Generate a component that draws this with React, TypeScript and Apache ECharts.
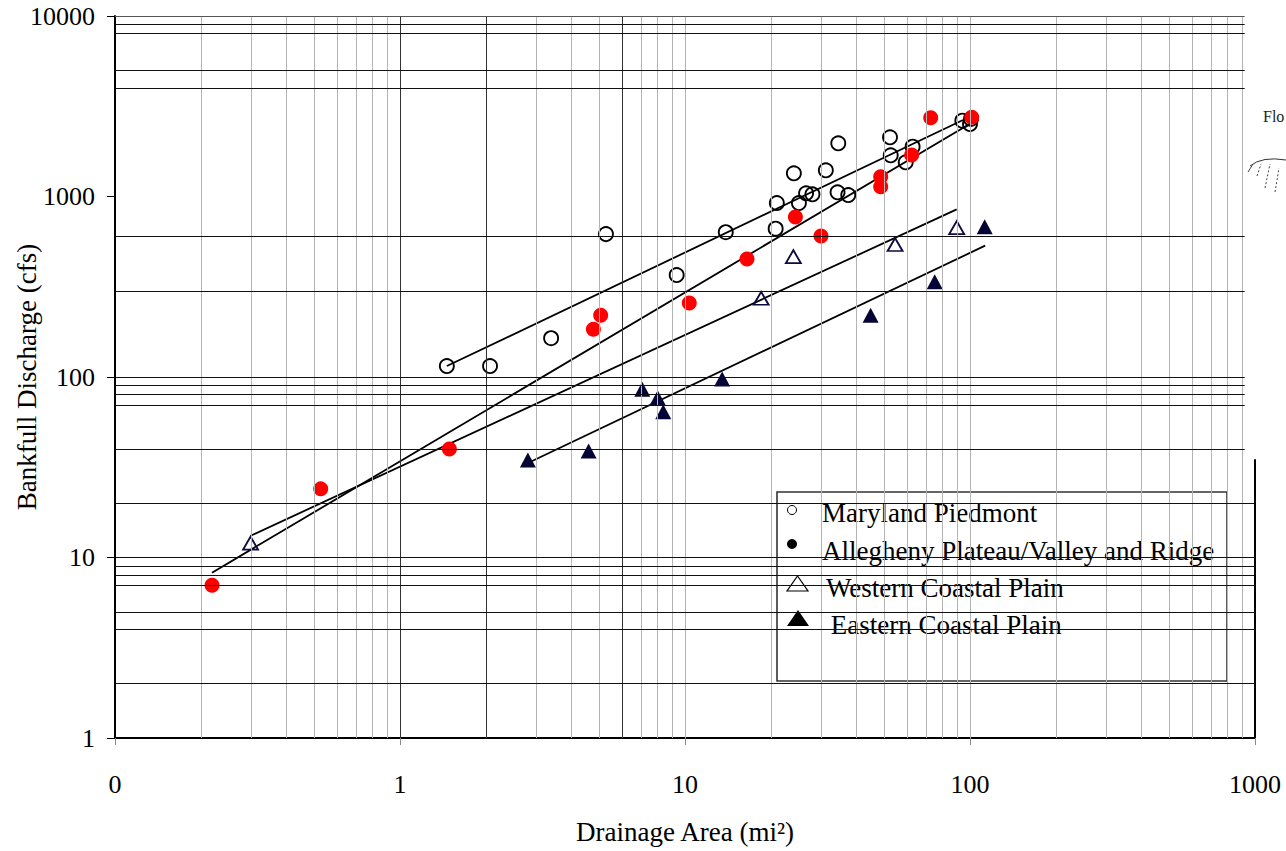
import React, { useEffect, useRef } from "react";
import * as echarts from "echarts";

const FONT = "'Liberation Serif', 'Times New Roman', serif";

// ---- data ----
const piedmontX = [1.46, 2.07, 3.39, 5.28, 9.35, 13.9, 20.8, 21.0, 24.1, 25.1, 26.6, 28.0, 31.2, 34.5, 34.3, 37.4, 52.4, 52.7, 62.9, 59.5, 94, 100.8, 100];
const piedmontY = [115, 115, 164, 619, 367, 634, 663, 920, 1344, 920, 1042, 1028, 1397, 1971, 1055, 1019, 2128, 1692, 1888, 1547, 2630, 2688, 2521];

const alleghenyX = [0.219, 0.527, 1.49, 4.77, 5.06, 10.35, 16.5, 24.4, 30.0, 48.6, 48.6, 62.4, 72.8, 101.4];
const alleghenyY = [7.01, 24.0, 39.9, 184, 220, 257, 451, 770, 604, 1288, 1133, 1698, 2733, 2747];

const westernX = [0.299, 18.5, 24.0, 54.6, 89.8];
const westernY = [12.0, 273, 464, 542, 672];

const easternX = [2.81, 4.59, 7.08, 8.02, 8.39, 13.5, 44.8, 75.2, 112.6];
const easternY = [34.7, 38.9, 85.5, 76.8, 64.2, 97.5, 220, 337, 680];

// regression lines (end points)
const piedmontFitX = [1.46, 94.5];
const piedmontFitY = [115, 2653];
const alleghenyFitX = [0.219, 101.4];
const alleghenyFitY = [8.24, 2564];
const westernFitX = [0.299, 89.8];
const westernFitY = [13.2, 849];
const easternFitX = [2.86, 113];
const easternFitY = [33.8, 534];

// axis ticks / grid
const xTickLabels = ["0", "1", "10", "100", "1000"];
const yTickLabels = ["1", "10", "100", "1000", "10000"];
const hGridValues = [2, 4, 5, 7, 8, 9, 10, 20, 40, 70, 80, 90, 100, 300, 600, 4000, 5000, 8000, 9000, 10000];
const hGridSplit = 40; // lines at or above this value stop short on the right
const hGridEndTop = 920;
const hGridEndBottom = 1000;
const vGridValues = [
  0.2, 0.3, 0.4, 0.5, 0.6, 0.7, 0.8, 0.9, 1,
  2, 3, 4, 5, 6, 7, 8, 9, 10,
  20, 30, 40, 50, 60, 70, 80, 90, 100,
  200, 300, 400, 500, 600, 700, 800, 900,
];
const vGridDark = [1, 2, 6];
const rightBorderTop = 35;

const legendItems = [
  "Maryland Piedmont",
  "Allegheny Plateau/Valley and Ridge",
  "Western Coastal Plain",
  " Eastern Coastal Plain",
];

const zip = (xs: number[], ys: number[]) => xs.map((x, i) => [x, ys[i]]);

function buildOption() {
  const hLines = hGridValues.map((v) => [
    {
      coord: [0.1, v],
      lineStyle: { color: v === 10000 ? "#555" : "#111", width: 1, type: "solid" },
    },
    { coord: [v >= hGridSplit ? hGridEndTop : hGridEndBottom, v] },
  ]);
  const vLines = vGridValues.map((v) => ({
    xAxis: v,
    lineStyle: {
      color: vGridDark.includes(v) ? "#333" : "#b4b4b4",
      width: 1,
      type: "solid",
    },
  }));
  const border = [
    [
      { coord: [1000, 1], lineStyle: { color: "#000", width: 2, type: "solid" } },
      { coord: [1000, rightBorderTop] },
    ],
  ];

  const fitLine = (xs: number[], ys: number[], name: string) => ({
    type: "line",
    name,
    data: zip(xs, ys),
    showSymbol: false,
    symbol: "none",
    lineStyle: { color: "#000", width: 1.8 },
    z: 3,
    silent: true,
  });

  const legendText = (text: string, x: number, y: number) => ({
    type: "text",
    x,
    y,
    style: {
      text,
      fontFamily: FONT,
      fontSize: 27,
      fill: "#000",
      verticalAlign: "middle",
      align: "left",
    },
  });

  return {
    animation: false,
    backgroundColor: "#fff",
    grid: {
      left: 115,
      right: 31,
      top: 16,
      bottom: 113,
      containLabel: false,
      outerBoundsMode: "none",
    },
    xAxis: {
      type: "log",
      logBase: 10,
      min: 0.1,
      max: 1000,
      name: "Drainage Area (mi²)",
      nameLocation: "middle",
      nameGap: 80,
      nameMoveOverlap: false,
      nameTextStyle: { fontFamily: FONT, fontSize: 27, color: "#000" },
      axisLine: { show: true, lineStyle: { color: "#000", width: 2 } },
      axisTick: { show: true, length: 7, lineStyle: { color: "#888", width: 1 } },
      axisLabel: {
        fontFamily: FONT,
        fontSize: 26,
        color: "#000",
        margin: 33,
        formatter: (v: number) => xTickLabels[Math.round(Math.log10(v)) + 1],
      },
      splitLine: { show: false },
      minorSplitLine: { show: false },
    },
    yAxis: {
      type: "log",
      logBase: 10,
      min: 1,
      max: 10000,
      name: "Bankfull Discharge (cfs)",
      nameLocation: "middle",
      nameGap: 75,
      nameMoveOverlap: false,
      nameTextStyle: { fontFamily: FONT, fontSize: 27, color: "#000" },
      axisLine: { show: true, lineStyle: { color: "#000", width: 2 } },
      axisTick: { show: true, length: 8, lineStyle: { color: "#000", width: 1 } },
      axisLabel: {
        fontFamily: FONT,
        fontSize: 26,
        color: "#000",
        margin: 20,
        padding: [6, 0, 0, 0],
        formatter: (v: number) => yTickLabels[Math.round(Math.log10(v))],
      },
      splitLine: { show: false },
    },
    series: [
      {
        type: "scatter",
        name: "grid",
        data: [],
        silent: true,
        z: 1,
        markLine: {
          silent: true,
          symbol: ["none", "none"],
          label: { show: false },
          animation: false,
          data: [...vLines, ...hLines, ...border],
        },
      },
      fitLine(piedmontFitX, piedmontFitY, "fitPiedmont"),
      fitLine(alleghenyFitX, alleghenyFitY, "fitAllegheny"),
      fitLine(westernFitX, westernFitY, "fitWestern"),
      fitLine(easternFitX, easternFitY, "fitEastern"),
      {
        type: "scatter",
        name: "Maryland Piedmont",
        data: zip(piedmontX, piedmontY),
        symbol: "circle",
        symbolSize: 14,
        itemStyle: { color: "rgba(255,255,255,0)", borderColor: "#000", borderWidth: 1.9, opacity: 1 },
        z: 4,
      },
      {
        type: "scatter",
        name: "Allegheny Plateau/Valley and Ridge",
        data: zip(alleghenyX, alleghenyY),
        symbol: "circle",
        symbolSize: 15,
        itemStyle: { color: "#ff0000", opacity: 1 },
        z: 4,
      },
      {
        type: "scatter",
        name: "Western Coastal Plain",
        data: zip(westernX, westernY),
        symbol: "triangle",
        symbolSize: [15, 13],
        itemStyle: { color: "rgba(255,255,255,0)", borderColor: "#0c0c40", borderWidth: 1.8, opacity: 1 },
        z: 4,
      },
      {
        type: "scatter",
        name: "Eastern Coastal Plain",
        data: zip(easternX, easternY),
        symbol: "triangle",
        symbolSize: [16, 15],
        itemStyle: { color: "#050535", opacity: 1 },
        z: 4,
      },
    ],
    graphic: [
      {
        type: "group",
        z: 100,
        children: [
          {
            type: "rect",
            shape: { x: 777, y: 492, width: 450, height: 189 },
            style: { fill: "#fff", stroke: "#333", lineWidth: 1.6 },
          },
          {
            type: "circle",
            shape: { cx: 792, cy: 510, r: 4.5 },
            style: { fill: "#fff", stroke: "#000", lineWidth: 1 },
          },
          {
            type: "circle",
            shape: { cx: 792, cy: 544, r: 5 },
            style: { fill: "#000" },
          },
          {
            type: "polygon",
            shape: { points: [[787, 591], [808, 591], [797.5, 576]] },
            style: { fill: "#fff", stroke: "#000", lineWidth: 1.2 },
          },
          {
            type: "polygon",
            shape: { points: [[787, 626], [809, 626], [798, 610]] },
            style: { fill: "#000" },
          },
          legendText(legendItems[0], 822, 513),
          legendText(legendItems[1], 822, 551),
          legendText(legendItems[2], 826, 588),
          legendText(legendItems[3], 824, 625),
        ],
      },
      {
        type: "text",
        x: 1263,
        y: 116,
        z: 100,
        style: { text: "Flo", fontFamily: FONT, fontSize: 16, fill: "#222", verticalAlign: "middle" },
      },
      {
        type: "group",
        z: 100,
        children: [
          {
            type: "bezierCurve",
            shape: { x1: 1250, y1: 166, cpx1: 1262, cpy1: 156, x2: 1286, y2: 160 },
            style: { stroke: "#333", lineWidth: 1, fill: "none" },
          },
          { type: "line", shape: { x1: 1248, y1: 172, x2: 1253, y2: 164 }, style: { stroke: "#444", lineWidth: 1 } },
          { type: "line", shape: { x1: 1257, y1: 176, x2: 1261, y2: 164 }, style: { stroke: "#444", lineWidth: 1, lineDash: [2, 2] } },
          { type: "line", shape: { x1: 1265, y1: 188, x2: 1270, y2: 164 }, style: { stroke: "#444", lineWidth: 1, lineDash: [2, 2] } },
          { type: "line", shape: { x1: 1275, y1: 192, x2: 1279, y2: 168 }, style: { stroke: "#444", lineWidth: 1, lineDash: [2, 2] } },
        ],
      },
    ],
  };
}

export default function App() {
  const ref = useRef<HTMLDivElement>(null);
  useEffect(() => {
    document.body.style.margin = "0";
    const chart = echarts.init(ref.current!, null, { renderer: "svg" });
    chart.setOption(buildOption() as any);
    return () => chart.dispose();
  }, []);
  return <div ref={ref} style={{ width: 1286, height: 851 }} />;
}
